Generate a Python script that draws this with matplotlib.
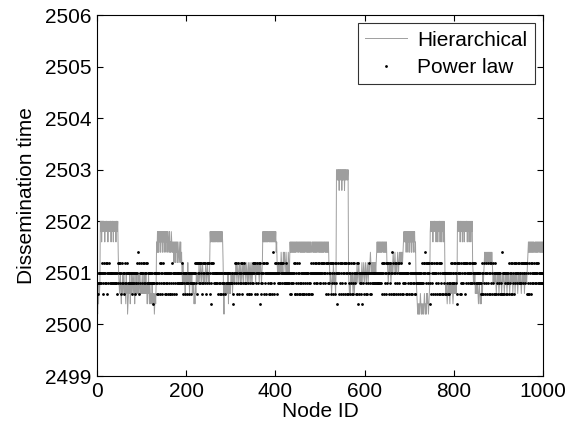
import numpy as np
import matplotlib
matplotlib.use("Agg")
import matplotlib.pyplot as plt

plt.rcParams["font.family"] = ["Liberation Sans", "DejaVu Sans"]

# level codes -> dissemination time
LEVEL = {"1": 2500.2, "2": 2500.4, "3": 2500.6, "4": 2500.8, "5": 2501.0,
         "6": 2501.2, "7": 2501.4, "8": 2501.6, "9": 2501.8, "a": 2502.0,
         "d": 2502.6, "e": 2502.8, "f": 2503.0}

# one code per node, 10 nodes per chunk
HIER_CODES = [
    "2132434a9a", "8a9aa9a8a9", "aa9a8a9a9a", "a8a9aa8a9a", "9a8aa9a754",
    "3453243534", "5343253412", "3435243534", "5345243535", "3435345343",
    "4534353435", "3424353243", "2324232312", "3248797979", "8979897989",
    "7989798979", "8797879878", "7868786878", "6876786867", "5464545354",
    "4546454354", "5453434232", "4354545465", "4565456545", "5456545654",
    "5469899898", "9898989989", "8989898998", "9863143434", "3435243434",
    "5453454545", "5654565456", "5465456546", "5654565456", "4565465456",
    "5656546565", "5654656545", "6989898989", "8989989898", "9898989898",
    "9786565656", "6576565767", "6567656576", "5687878787", "8787878878",
    "8788787878", "7878787887", "8787878787", "7887878787", "8787887878",
    "7878787878", "8787878786", "6545434546", "545435ffef", "efdfefefdf",
    "efefdfefef", "fef5434354", "4543453454", "5465456545", "5456545654",
    "5654565456", "5676565656", "5656567878", "7878787878", "8787878786",
    "6545656545", "6567656765", "6567656767", "6767678989", "8979897989",
    "7989798979", "8978543212", "1212321212", "2123212132", "3212349a9a",
    "9a8a9aa9a8", "a9a8a9aa8a", "9a8a9a8a95", "4343234343", "2434343234",
    "3434354a9a", "a9a8aa9a8a", "9a8a9a9aa8", "a9a8a9a8a9", "a654545343",
    "4343234323", "2343545676", "7676767676", "7676765454", "5454345454",
    "3454543454", "5434545434", "5454345454", "5345453454", "5434545454",
    "3454545345", "4545678787", "8787878787", "7878787878", "8787878787",
]

POWER_CODES = [
    "5435454545", "5645365456", "4635456545", "5454545454", "5454354656",
    "4563546545", "3546545645", "5454545345", "4545354546", "5473654565",
    "4565465456", "5465454545", "4545424545", "5453543545", "3654635465",
    "4535435453", "5435354635", "4535453545", "5454545454", "6453545354",
    "5435453545", "4354545456", "5646356465", "4656345646", "5645364565",
    "4653462565", "6545454545", "3545354534", "5435453545", "5454545454",
    "4545235465", "4563546534", "5645364565", "4545435453", "5354535465",
    "4656354653", "5465624535", "4656354635", "6545354535", "4537535465",
    "5635465456", "4654656545", "5465454545", "4354535454", "5636354365",
    "4635435453", "5435354535", "4535435453", "6536545654", "5654656545",
    "4656546565", "5463564635", "4656354636", "5463546525", "6356463546",
    "3565364563", "5635463546", "3546356453", "5635623545", "4535254535",
    "5354535456", "4535354545", "5454545454", "4545454563", "5636546356",
    "4653564635", "5736354656", "3546356453", "6535453545", "4535354536",
    "5435453545", "4353545454", "5454545465", "4656756465", "5646524635",
    "4653563546", "5635463536", "4635354535", "5354535354", "5465465456",
    "4565462356", "5635463546", "4653564656", "5465465456", "4656546545",
    "5454545453", "4536354635", "5463546356", "3564536453", "5635354535",
    "4535437353", "5354535354", "4563546356", "3546356456", "5465465456",
    "4654656546", "5636354635", "4635465456", "5465465465", "4545454545",
]

X_TICKS = [0, 200, 400, 600, 800, 1000]
Y_TICKS = [2499, 2500, 2501, 2502, 2503, 2504, 2505, 2506]


def decode(chunks):
    return np.array([LEVEL[c] for c in "".join(chunks)])


hier = decode(HIER_CODES)
power = decode(POWER_CODES)
node_h = np.arange(1, len(hier) + 1)
node_p = np.arange(1, len(power) + 1)

fig = plt.figure(figsize=(5.76, 4.29), dpi=100)
ax = fig.add_axes([0.168, 0.1235, 0.775, 0.8415])

ax.plot(node_h, hier, color="0.62", lw=0.7, label="Hierarchical")
ax.plot(node_p, power, ls="none", marker=".", ms=2.0, color="black",
        label="Power law")

ax.set_xlim(0, 1000)
ax.set_ylim(2499, 2506)
ax.set_xticks(X_TICKS)
ax.set_yticks(Y_TICKS)
ax.tick_params(direction="in", top=True, right=True, length=4, width=0.8,
               labelsize=15, pad=4)
ax.ticklabel_format(useOffset=False, style="plain")
ax.set_xlabel("Node ID", fontsize=15, labelpad=1)
ax.set_ylabel("Dissemination time", fontsize=15, labelpad=6)
for s in ax.spines.values():
    s.set_linewidth(0.8)

leg = ax.legend(loc="upper right", fontsize=15, frameon=True, fancybox=False,
                edgecolor="black", handlelength=2.0, handletextpad=0.5,
                borderpad=0.35, labelspacing=0.4, markerscale=1.0,
                borderaxespad=0.4)
leg.get_frame().set_linewidth(0.8)

fig.savefig("out.png", dpi=100)
